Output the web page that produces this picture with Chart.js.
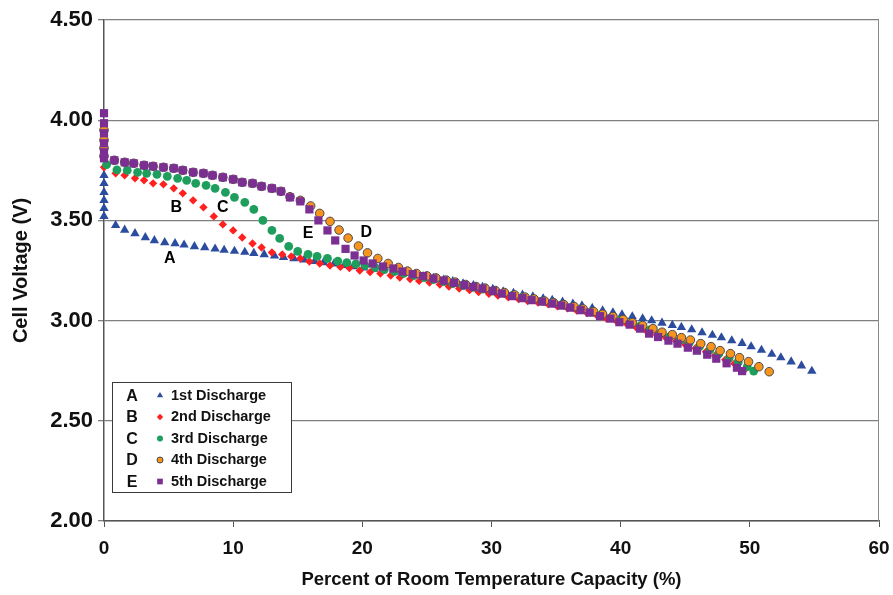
<!DOCTYPE html>
<html><head><meta charset="utf-8">
<script src="https://cdn.jsdelivr.net/npm/chart.js@4.4.1/dist/chart.umd.min.js"></script>
<style>html,body{margin:0;padding:0;background:#fff;}#wrap{width:893px;height:595px;}</style>
</head><body><div id="wrap"><canvas id="c" width="893" height="595"></canvas></div>
<script>
// ---- data ----
const seriesLetters = ['A','B','C','D','E'];
const seriesNames = ['1st Discharge','2nd Discharge','3rd Discharge','4th Discharge','5th Discharge'];
const xTickValues = [0,10,20,30,40,50,60];
const yTickValues = [2.00,2.50,3.00,3.50,4.00,4.50];

const capA = [0,0,0,0,0,0,0.9,1.6,2.4,3.2,3.9,4.7,5.5,6.2,7.0,7.8,8.6,9.3,10.1,10.9,11.6,12.4,13.2,13.9,14.7,15.5,16.3,17.0,17.8,18.6,19.3,20.1,20.9,21.6,22.4,23.2,24.0,24.7,25.5,26.3,27.0,27.8,28.6,29.3,30.1,30.9,31.7,32.4,33.2,34.0,34.7,35.5,36.3,37.0,37.8,38.6,39.4,40.1,40.9,41.7,42.4,43.2,44.0,44.7,45.5,46.3,47.1,47.8,48.6,49.4,50.1,50.9,51.7,52.4,53.2,54.0,54.8];
const voltA = [3.52,3.56,3.60,3.64,3.685,3.725,3.475,3.452,3.435,3.415,3.40,3.39,3.385,3.378,3.37,3.365,3.358,3.352,3.347,3.342,3.336,3.33,3.323,3.316,3.31,3.303,3.296,3.29,3.283,3.276,3.27,3.263,3.257,3.25,3.243,3.236,3.228,3.22,3.212,3.203,3.195,3.185,3.176,3.167,3.157,3.145,3.137,3.128,3.12,3.11,3.102,3.093,3.083,3.074,3.062,3.05,3.04,3.03,3.02,3.01,3.0,2.988,2.977,2.967,2.955,2.94,2.928,2.915,2.9,2.887,2.87,2.853,2.833,2.815,2.795,2.775,2.748];

const capB = [0,0.9,1.6,2.4,3.1,3.8,4.6,5.4,6.1,6.9,7.7,8.5,9.2,10.0,10.7,11.5,12.2,13.0,13.8,14.5,15.2,15.9,16.7,17.5,18.3,19.0,19.8,20.6,21.4,22.2,22.9,23.7,24.4,25.2,26.0,26.7,27.5,28.3,29.0,29.8,30.5,31.3,32.1,32.8,33.6,34.4,35.1,35.9,36.6,37.4,38.2,38.9,39.7,40.5,41.2,42.0,42.8,43.5,44.3,45.0,45.8,46.6,47.3,48.1,48.8,49.6];
const voltB = [3.765,3.735,3.725,3.71,3.70,3.685,3.68,3.66,3.635,3.60,3.565,3.52,3.48,3.45,3.415,3.385,3.365,3.34,3.33,3.32,3.31,3.295,3.285,3.275,3.268,3.262,3.25,3.242,3.235,3.225,3.215,3.207,3.198,3.19,3.18,3.17,3.16,3.152,3.143,3.134,3.125,3.116,3.107,3.098,3.09,3.081,3.071,3.061,3.05,3.038,3.024,3.01,2.996,2.982,2.966,2.948,2.93,2.914,2.897,2.88,2.862,2.844,2.825,2.805,2.785,2.755];

const capC = [0.2,1.0,1.8,2.6,3.3,4.1,4.9,5.7,6.4,7.1,7.9,8.6,9.4,10.1,10.9,11.6,12.3,13.0,13.6,14.3,15.0,15.8,16.5,17.3,18.1,18.8,19.5,20.2,21.0,21.7,22.5,23.2,24.0,24.8,25.5,26.3,27.0,27.8,28.6,29.3,30.1,30.9,31.6,32.4,33.2,33.9,34.7,35.4,36.2,37.0,37.7,38.5,39.3,40.0,40.8,41.5,42.3,43.1,43.8,44.6,45.3,46.1,46.9,47.6,48.4,49.1,49.8,50.3];
const voltC = [3.778,3.752,3.75,3.74,3.735,3.73,3.72,3.71,3.70,3.685,3.675,3.66,3.64,3.615,3.59,3.555,3.50,3.45,3.41,3.37,3.345,3.33,3.32,3.31,3.297,3.289,3.283,3.275,3.265,3.255,3.245,3.235,3.225,3.215,3.205,3.195,3.185,3.175,3.166,3.157,3.147,3.137,3.126,3.116,3.106,3.097,3.088,3.078,3.067,3.055,3.042,3.03,3.016,3.002,2.988,2.972,2.955,2.937,2.92,2.903,2.887,2.87,2.852,2.834,2.813,2.792,2.77,2.748];

const capD = [0,0,0,0,0.8,1.6,2.3,3.1,3.8,4.6,5.4,6.1,6.9,7.7,8.4,9.2,10.0,10.7,11.5,12.2,13.0,13.7,14.4,15.2,16.0,16.7,17.5,18.2,18.9,19.7,20.4,21.2,22.0,22.8,23.5,24.2,25.0,25.7,26.5,27.2,28.0,28.8,29.5,30.3,31.0,31.8,32.6,33.3,34.1,34.8,35.6,36.4,37.1,37.9,38.6,39.4,40.2,40.9,41.7,42.5,43.2,44.0,44.7,45.4,46.2,47.0,47.7,48.5,49.2,49.9,50.7,51.5];
const voltD = [3.82,3.86,3.90,3.95,3.80,3.79,3.785,3.775,3.77,3.765,3.76,3.75,3.74,3.735,3.725,3.715,3.705,3.69,3.685,3.67,3.66,3.645,3.618,3.60,3.572,3.535,3.495,3.452,3.412,3.372,3.338,3.31,3.285,3.265,3.247,3.235,3.223,3.213,3.202,3.192,3.18,3.17,3.162,3.15,3.14,3.128,3.117,3.108,3.098,3.09,3.08,3.07,3.058,3.045,3.032,3.02,3.005,2.99,2.975,2.96,2.942,2.93,2.915,2.903,2.885,2.87,2.85,2.835,2.815,2.795,2.77,2.745];

const capE = [0,0,0,0,0,0,0.8,1.6,2.3,3.1,3.8,4.6,5.4,6.1,6.9,7.7,8.4,9.2,10.0,10.7,11.5,12.2,13.0,13.7,14.4,15.2,15.9,16.6,17.3,17.9,18.7,19.4,20.1,20.8,21.6,22.4,23.1,23.9,24.7,25.5,26.3,27.1,27.9,28.6,29.3,30.1,30.8,31.6,32.4,33.1,33.9,34.7,35.4,36.1,36.9,37.6,38.4,39.2,39.9,40.7,41.5,42.2,42.9,43.7,44.4,45.2,45.9,46.7,47.4,48.2,49.0,49.4];
const voltE = [4.035,3.985,3.935,3.885,3.84,3.81,3.80,3.79,3.785,3.775,3.77,3.765,3.76,3.75,3.74,3.735,3.725,3.715,3.705,3.69,3.685,3.67,3.66,3.645,3.615,3.595,3.555,3.50,3.45,3.40,3.358,3.325,3.30,3.285,3.27,3.26,3.245,3.232,3.222,3.21,3.20,3.188,3.177,3.168,3.16,3.148,3.135,3.122,3.112,3.102,3.095,3.085,3.075,3.065,3.052,3.04,3.022,3.01,2.992,2.98,2.96,2.935,2.918,2.90,2.885,2.865,2.85,2.83,2.81,2.787,2.765,2.748];

// curve labels (text + data coordinates)
const curveLabelText = ['A','B','C','D','E'];
const curveLabelX = [5.1,5.6,9.2,20.3,15.8];
const curveLabelY = [3.31,3.566,3.566,3.437,3.434];

// ---- styles ----
const styles = [
  {color:'#2B4C9F', style:'triangle', r:5.4, border:null, order:5, lr:3.6},
  {color:'#FF2020', style:'rectRot', r:4.2, border:null, order:4, lr:3.2},
  {color:'#1E9E5C', style:'circle', r:4.4, border:null, order:3, lr:3.0},
  {color:'#F7941D', style:'circle', r:4.3, border:'#4a4a4a', order:2, lr:3.0},
  {color:'#7B2F93', style:'rect', r:5.8, border:null, order:1, lr:4.0}
];
const caps = [capA,capB,capC,capD,capE];
const volts = [voltA,voltB,voltC,voltD,voltE];

const datasets = caps.map((cx, k) => ({
  label: seriesNames[k],
  data: cx.map((x, i) => ({x: x, y: volts[k][i]})),
  showLine: false,
  pointStyle: styles[k].style,
  pointRadius: styles[k].r,
  pointHoverRadius: styles[k].r,
  backgroundColor: styles[k].color,
  borderColor: styles[k].border || styles[k].color,
  borderWidth: styles[k].border ? 1 : 0,
  order: styles[k].order,
  clip: false
}));

const FONT = '"Liberation Sans", Arial, sans-serif';

function drawMarker(ctx, st, x, y, r) {
  ctx.beginPath();
  if (st.style === 'triangle') {
    ctx.moveTo(x, y - r);
    ctx.lineTo(x + r * 0.866, y + r * 0.5);
    ctx.lineTo(x - r * 0.866, y + r * 0.5);
    ctx.closePath();
  } else if (st.style === 'rectRot') {
    ctx.moveTo(x - r, y); ctx.lineTo(x, y - r); ctx.lineTo(x + r, y); ctx.lineTo(x, y + r); ctx.closePath();
  } else if (st.style === 'rect') {
    const s = r * 0.7071;
    ctx.rect(x - s, y - s, 2 * s, 2 * s);
  } else {
    ctx.arc(x, y, r, 0, Math.PI * 2);
  }
  ctx.fillStyle = st.color;
  ctx.fill();
  if (st.border) { ctx.strokeStyle = st.border; ctx.lineWidth = 1; ctx.stroke(); }
}

const decor = {
  id: 'decor',
  beforeDatasetsDraw(chart) {
    const {ctx, chartArea: a} = chart;
    ctx.save();
    ctx.strokeStyle = '#8a8a8a';
    ctx.lineWidth = 1;
    ctx.beginPath();
    ctx.moveTo(a.right - 0.5, a.top);
    ctx.lineTo(a.right - 0.5, a.bottom);
    ctx.stroke();
    ctx.restore();
  },
  afterDatasetsDraw(chart) {
    const {ctx, chartArea: a, scales} = chart;
    ctx.save();
    // curve letters
    ctx.fillStyle = '#000';
    ctx.font = 'bold 16px ' + FONT;
    ctx.textAlign = 'center';
    ctx.textBaseline = 'middle';
    curveLabelText.forEach((t, i) => {
      ctx.fillText(t, scales.x.getPixelForValue(curveLabelX[i]), scales.y.getPixelForValue(curveLabelY[i]));
    });
    // legend
    const lx = a.left + 8, ly = 382, lw = 179, lh = 110;
    ctx.fillStyle = '#fff';
    ctx.fillRect(lx, ly, lw, lh);
    ctx.strokeStyle = '#3a3a3a';
    ctx.lineWidth = 1;
    ctx.strokeRect(lx + 0.5, ly + 0.5, lw, lh);
    for (let i = 0; i < seriesNames.length; i++) {
      const cy = ly + 13.5 + i * 21.5;
      ctx.fillStyle = '#111';
      ctx.font = 'bold 16px ' + FONT;
      ctx.textAlign = 'center';
      ctx.fillText(seriesLetters[i], lx + 20, cy + 1);
      drawMarker(ctx, styles[i], lx + 48, cy, styles[i].lr);
      ctx.fillStyle = '#111';
      ctx.font = 'bold 14.5px ' + FONT;
      ctx.textAlign = 'left';
      ctx.fillText(seriesNames[i], lx + 59, cy);
    }
    ctx.restore();
  }
};

new Chart(document.getElementById('c'), {
  type: 'scatter',
  data: {datasets: datasets},
  options: {
    responsive: false,
    animation: false,
    events: [],
    layout: {padding: {top: 20, right: 14, left: 0, bottom: 0}},
    plugins: {legend: {display: false}, tooltip: {enabled: false}},
    scales: {
      x: {
        type: 'linear', min: 0, max: 60,
        afterFit(s) { s.height = 74; s.paddingLeft = 0; s.paddingRight = 0; },
        afterBuildTicks(s) { s.ticks = xTickValues.map(v => ({value: v})); },
        ticks: {color: '#111', font: {family: FONT, size: 19, weight: 'bold'}, padding: 10, maxRotation: 0,
                callback: v => String(v)},
        grid: {drawOnChartArea: false, drawTicks: true, tickLength: 6, color: '#555', lineWidth: 1},
        border: {display: true, color: '#555', width: 1.5},
        title: {display: true, text: 'Percent of Room Temperature Capacity (%)', color: '#111',
                font: {family: FONT, size: 18.5, weight: 'bold'}, padding: {top: 0, bottom: 4}}
      },
      y: {
        type: 'linear', min: 2, max: 4.5,
        afterFit(s) { s.width = 104; s.paddingTop = 0; s.paddingBottom = 0; },
        afterBuildTicks(s) { s.ticks = yTickValues.map(v => ({value: v})); },
        ticks: {color: '#111', font: {family: FONT, size: 22, weight: 'bold'}, padding: 5,
                callback: v => Number(v).toFixed(2)},
        grid: {drawOnChartArea: true, drawTicks: true, tickLength: 6, color: '#808080', lineWidth: 1.3},
        border: {display: true, color: '#555', width: 1.5},
        title: {display: true, text: 'Cell Voltage (V)', color: '#111',
                font: {family: FONT, size: 20, weight: 'bold'}, padding: {top: 9, bottom: 0}}
      }
    }
  },
  plugins: [decor]
});
</script>
</body></html>
